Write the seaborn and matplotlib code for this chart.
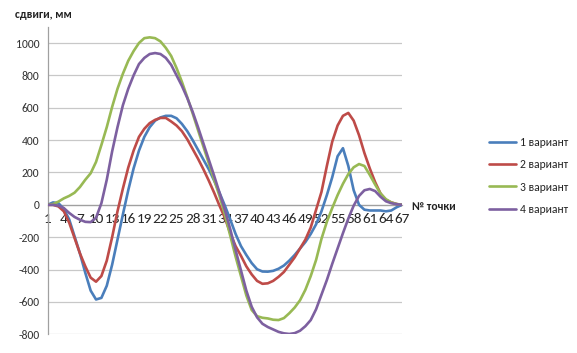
import numpy as np
import pandas as pd
import matplotlib
matplotlib.use("Agg")
import matplotlib.pyplot as plt
import seaborn as sns
from matplotlib import font_manager

points = list(range(1, 68))

s1 = [0, 15, 10, -25, -90, -195, -300, -420, -530, -585,
      -575, -500, -370, -215, -60, 90, 225, 335, 420, 480,
      520, 540, 550, 550, 535, 500, 455, 400, 340, 280,
      220, 150, 75, -5, -90, -180, -255, -310, -360, -398,
      -412, -413, -408, -395, -375, -345, -310, -270, -230, -180,
      -120, -40, 60, 170, 300, 350, 240, 90, 0, -30,
      -35, -35, -35, -40, -35, -15, 0]

s2 = [0, 0, -10, -40, -110, -205, -300, -380, -450, -475,
      -440, -345, -200, -40, 100, 230, 335, 420, 470, 505,
      525, 537, 537, 515, 490, 455, 405, 345, 285, 220,
      150, 75, -5, -80, -175, -255, -315, -380, -430, -470,
      -488, -485, -470, -445, -415, -370, -325, -270, -215, -140,
      -30, 80, 240, 390, 490, 550, 568, 520, 430, 320,
      225, 140, 70, 30, 15, 5, 0]

s3 = [0, 5, 20, 40, 55, 75, 110, 155, 195, 265,
      370, 480, 605, 717, 810, 890, 950, 1000, 1030, 1035,
      1030, 1010, 970, 920, 845, 760, 665, 565, 462, 360,
      258, 155, 55, -60, -190, -320, -440, -560, -650, -688,
      -698, -702, -710, -712, -700, -670, -635, -590, -525, -440,
      -340, -210, -105, -20, 60, 130, 190, 232, 252, 240,
      185, 125, 70, 35, 15, 5, 0]

s4 = [0, 0, -5, -20, -50, -75, -92, -105, -107, -80,
      10, 155, 330, 480, 615, 717, 800, 870, 908, 932,
      938, 932, 908, 865, 800, 735, 660, 575, 480, 380,
      280, 180, 75, -30, -150, -280, -405, -530, -630, -695,
      -735, -755, -770, -785, -794, -798, -793, -778, -750, -712,
      -645, -555, -465, -365, -270, -175, -85, -5, 55, 90,
      98, 85, 50, 22, 10, 4, 0]

series_names = ["1 вариант", "2 вариант", "3 вариант", "4 вариант"]
colors = ["#4A7EBB", "#BE4B48", "#98B954", "#7D60A0"]
x_tick_vals = list(range(1, 68, 3))
y_tick_vals = list(range(-800, 1001, 200))

df = pd.DataFrame({
    "point": points * 4,
    "value": s1 + s2 + s3 + s4,
    "series": sum([[n] * len(points) for n in series_names], []),
})

sns.set_theme(style="white")
installed = {f.name for f in font_manager.fontManager.ttflist}
if "Carlito" in installed:
    plt.rcParams["font.family"] = ["Carlito", "DejaVu Sans"]
    fs_tick, fs_x, fs_leg, fs_title = 8.4, 7.8, 8.4, 8.4
else:
    plt.rcParams["font.family"] = ["Lato", "DejaVu Sans"]
    fs_tick, fs_x, fs_leg, fs_title = 7.8, 7.0, 7.8, 8.0

fig = plt.figure(figsize=(5.77, 3.53), dpi=100)
ax = fig.add_axes([0.0827, 0.053, 0.614, 0.871])

sns.lineplot(data=df, x="point", y="value", hue="series",
             palette=colors, linewidth=1.9, ax=ax, legend=True, zorder=3)

ax.set_xlim(1, 67)
ax.set_ylim(-800, 1100)
ax.set_yticks(y_tick_vals)
ax.set_yticklabels([str(v) for v in y_tick_vals], fontsize=fs_tick, color="#333333")
ax.set_xticks(x_tick_vals)
ax.set_xticklabels([str(v) for v in x_tick_vals], fontsize=fs_x, color="#333333")
ax.set_xticks(points, minor=True)
ax.tick_params(axis="x", which="both", direction="inout", length=4,
               color="#A0A0A0", width=0.8, pad=4)
ax.tick_params(axis="y", length=0, pad=6)

ax.grid(axis="y", color="#C8C8C8", linewidth=0.9, zorder=0)
ax.grid(axis="x", visible=False)
ax.set_axisbelow(True)

for s in ["top", "right"]:
    ax.spines[s].set_visible(False)
ax.spines["bottom"].set_position(("data", 0))
ax.spines["bottom"].set_color("#A0A0A0")
ax.spines["left"].set_color("#A0A0A0")
ax.spines["bottom"].set_linewidth(0.9)
ax.spines["left"].set_linewidth(0.9)

ax.set_xlabel("")
ax.set_ylabel("")

fig.text(15 / 577, 1 - 15 / 353, "сдвиги, мм", fontsize=fs_title, fontweight="bold",
         ha="left", va="center", color="#222222")
fig.text(412 / 577, 1 - 206 / 353, "№ точки", fontsize=fs_title, fontweight="bold",
         ha="left", va="center", color="#222222")

handles, labels = ax.get_legend_handles_labels()
ax.legend(handles, labels, loc="center left", bbox_to_anchor=(489 / 577, 1 - 176 / 353),
          bbox_transform=fig.transFigure, frameon=False, fontsize=fs_leg,
          handlelength=2.3, handletextpad=0.35, labelspacing=0.95, borderpad=0,
          borderaxespad=0)

fig.savefig("out.png", dpi=100)
